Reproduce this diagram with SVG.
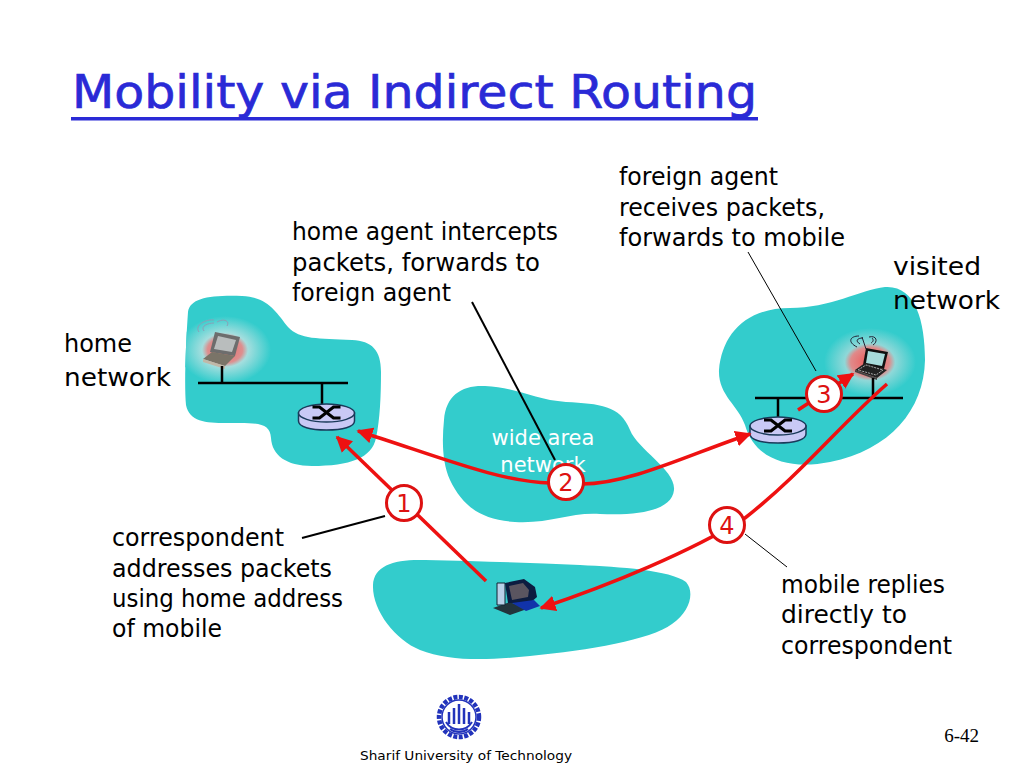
<svg xmlns="http://www.w3.org/2000/svg" width="1024" height="768" viewBox="0 0 1024 768">
<style>
text{font-family:"DejaVu Sans","Noto Sans",sans-serif;fill:#000}
.l{font-size:24px}
.cloud{fill:#33cccc}
.bus{stroke:#000;stroke-width:2.5;fill:none}
.thin{stroke:#000;stroke-width:1;fill:none}
.med{stroke:#000;stroke-width:2;fill:none}
.red{stroke:#ee1111;stroke-width:3.5;fill:none}
.num{fill:#fff;stroke:#dd1111;stroke-width:3}
.nt{font-size:24px;fill:#dd1111;text-anchor:middle}
.rt{fill:#c9c9f5;stroke:#1a3a5a;stroke-width:1.5}
</style>
<defs>
<marker id="ah" viewBox="0 0 10 10" refX="9" refY="5" markerWidth="4.6" markerHeight="4.6" orient="auto-start-reverse"><path d="M0 0L10 5L0 10z" fill="#ee1111"/></marker>
<radialGradient id="glow"><stop offset="0" stop-color="#e86a6a"/><stop offset=".38" stop-color="#dd8f8f"/><stop offset=".5" stop-color="#a5dede"/><stop offset="1" stop-color="#33cccc"/></radialGradient>
<radialGradient id="glow2"><stop offset="0" stop-color="#ee5555"/><stop offset=".42" stop-color="#e08a8a"/><stop offset=".55" stop-color="#8fd8d8"/><stop offset="1" stop-color="#33cccc"/></radialGradient>
<path id="home-shape" d="M188 312C190 298 210 295 242 296C268 297 276 312 288 327C300 340 318 338 352 340C372 341 381 350 381 372C381 395 380 420 376 438C372 458 350 466 312 466C286 466 272 455 271 438C270 425 262 423 240 423C212 423 190 425 186 405C184 385 186 340 188 312z"/>
<clipPath id="home-clip"><use href="#home-shape"/></clipPath>
<g id="router">
<path class="rt" d="M-28 -4V4C-28 10 -16 13 0 13S28 10 28 4V-4z"/>
<ellipse class="rt" cx="0" cy="-4" rx="28" ry="9"/>
<path d="M-14 -10H-7L7 1H14M-14 1H-7L7 -10H14" fill="none" stroke="#000" stroke-width="3.2"/>
</g>
</defs>
<rect width="1024" height="768" fill="#fff"/>
<g id="title">
<text x="72" y="108" style="font-size:47px;fill:#2a2ad6;stroke:#2a2ad6;stroke-width:.7" textLength="685" lengthAdjust="spacingAndGlyphs">Mobility via Indirect Routing</text>
<rect x="71" y="117" width="687" height="3.5" fill="#2a2ad6"/>
</g>
<g id="home-network">
<use href="#home-shape" class="cloud"/>
<ellipse cx="225" cy="350" rx="46" ry="34" fill="url(#glow)" clip-path="url(#home-clip)"/>
<g id="home-laptop">
<path d="M215 332L240 337L235 356L210 352z" fill="#6d6d6d"/>
<path d="M218 336L236 340L232 352L214 349z" fill="#b9bdbd"/>
<path d="M203 359L212 352L235 356L225 366z" fill="#7a7468"/>
<path d="M203 359L225 366V369L203 362z" fill="#c0b8a8"/>
<path d="M199 332C194 325 206 319 214 320M204 331C200 326 208 323 214 323M217 322C224 318 230 321 227 326" fill="none" stroke="#8aa0b8" stroke-width="1"/>
</g>
<path class="bus" d="M198 383H348M222 366V383M322 383V405"/>
<use href="#router" x="326.500" y="417"/>
<text class="l" x="64" y="352" textLength="68" lengthAdjust="spacingAndGlyphs">home</text>
<text class="l" x="64" y="386" textLength="107" lengthAdjust="spacingAndGlyphs">network</text>
</g>
<g id="wide-area-network">
<path class="cloud" d="M444 420C446 395 462 385 485 386C515 387 535 400 566 402C600 404 620 405 630 430C638 450 676 470 674 490C672 510 640 516 600 514C570 512 550 524 515 522C480 520 462 505 450 480C442 462 442 440 444 420z"/>
<text x="543" y="445" text-anchor="middle" style="font-size:21px;fill:#fff">wide area</text>
<text x="543" y="472" text-anchor="middle" style="font-size:21px;fill:#fff">network</text>
</g>
<g id="visited-network">
<path class="cloud" d="M719 370C722 335 745 308 790 308C830 308 860 290 885 287C915 285 925 320 925 360C924 410 890 450 830 462C790 470 755 460 745 425C738 405 718 395 719 370z"/>
<ellipse cx="870" cy="362" rx="46" ry="34" fill="url(#glow2)"/>
<g id="visited-laptop">
<path d="M866 348L888 352L884 369L863 365z" fill="#111"/>
<path d="M868 351L885 354L882 366L866 363z" fill="#a8dcdc"/>
<path d="M855 370L865 363L887 370L877 378z" fill="#222"/>
<path d="M858 370L866 365L883 370L876 375z" fill="none" stroke="#ccc" stroke-width=".8" stroke-dasharray="2 1"/>
<path d="M855 370L877 378V380L855 372z" fill="#444"/>
<path d="M857 347C847 342 850 336 859 336M860 344C855 341 857 338 863 338M869 337C877 335 878 342 873 345M872 338C874 340 873 342 871 343M862 337L866 349" fill="none" stroke="#223" stroke-width="1"/>
</g>
<path class="bus" d="M755 398H903M778 398V418M873 378V398"/>
<use href="#router" x="778" y="430"/>
<text class="l" x="893" y="275" textLength="88" lengthAdjust="spacingAndGlyphs">visited</text>
<text class="l" x="893" y="309" textLength="107" lengthAdjust="spacingAndGlyphs">network</text>
</g>
<g id="correspondent-network">
<path class="cloud" d="M373 585C374 565 395 559 425 560C480 561 530 563 580 565C620 567 670 570 686 582C695 592 690 612 672 624C650 640 590 650 530 656C490 660 450 662 420 650C395 640 372 610 373 585z"/>
<g id="computer">
<path d="M493 608L510 602L527 609L510 615z" fill="#22343c"/>
<path d="M497 583H505V605H497z" fill="#b8d0e8" stroke="#123" stroke-width="1"/>
<path d="M505 583L524 579L535 587L537 597L530 603L508 603z" fill="#0c1c40"/>
<path d="M509 586L523 583L529 590L528 597L512 600z" fill="#5a5560"/>
<path d="M512 603L534 600L540 606L526 611z" fill="#1133aa"/>
</g>
</g>
<g id="connectors">
<path class="red" marker-end="url(#ah)" d="M550 483C500 482 440 457 358 431"/>
<path class="red" marker-end="url(#ah)" d="M582 484C630 484 690 454 750 434"/>
<path class="red" marker-end="url(#ah)" d="M486 581L337 437"/>
<path class="red" marker-end="url(#ah)" d="M798 410L853 374"/>
<path class="red" marker-end="url(#ah)" d="M887 384C840 425 800 475 745 518C690 552 610 585 541 608"/>
<path class="thin" d="M748 252L816 371"/>
<path class="med" d="M472 302L555 460"/>
<path class="med" d="M302 538L385 516"/>
<path class="thin" d="M745 534L787 567"/>
</g>
<g id="badge-1"><circle class="num" cx="404" cy="503" r="17.500"/><text class="nt" x="404" y="512">1</text></g>
<g id="badge-2"><circle class="num" cx="566" cy="482" r="17.500"/><text class="nt" x="566" y="491">2</text></g>
<g id="badge-3"><circle class="num" cx="824" cy="394" r="17.500"/><text class="nt" x="824" y="403">3</text></g>
<g id="badge-4"><circle class="num" cx="727" cy="525" r="17.500"/><text class="nt" x="727" y="534">4</text></g>
<g id="captions">
<text class="l" x="292" y="240" textLength="266" lengthAdjust="spacingAndGlyphs">home agent intercepts</text>
<text class="l" x="292" y="271" textLength="248" lengthAdjust="spacingAndGlyphs">packets, forwards to</text>
<text class="l" x="292" y="301" textLength="159" lengthAdjust="spacingAndGlyphs">foreign agent</text>
<text class="l" x="619" y="185" textLength="159" lengthAdjust="spacingAndGlyphs">foreign agent</text>
<text class="l" x="619" y="216" textLength="206" lengthAdjust="spacingAndGlyphs">receives packets,</text>
<text class="l" x="619" y="246" textLength="226" lengthAdjust="spacingAndGlyphs">forwards to mobile</text>
<text class="l" x="112" y="546" textLength="172" lengthAdjust="spacingAndGlyphs">correspondent</text>
<text class="l" x="112" y="577" textLength="220" lengthAdjust="spacingAndGlyphs">addresses packets</text>
<text class="l" x="112" y="607" textLength="231" lengthAdjust="spacingAndGlyphs">using home address</text>
<text class="l" x="112" y="637" textLength="110" lengthAdjust="spacingAndGlyphs">of mobile</text>
<text class="l" x="781" y="593" textLength="164" lengthAdjust="spacingAndGlyphs">mobile replies</text>
<text class="l" x="781" y="623" textLength="126" lengthAdjust="spacingAndGlyphs">directly to</text>
<text class="l" x="781" y="654" textLength="171" lengthAdjust="spacingAndGlyphs">correspondent</text>
</g>
<g id="footer">
<g id="logo" fill="none" stroke="#2233bb">
<circle cx="459" cy="717" r="20" stroke-width="4.500" stroke-dasharray="4 1.500"/>
<circle cx="459" cy="717" r="17" stroke-width="1.500"/>
<path d="M459 704V724M454 708V724M464 708V724M449 712V724M469 712V724" stroke-width="2.500"/>
<path d="M446 722C452 732 466 732 472 722M450 729C455 733 463 733 468 729" stroke-width="2"/>
</g>
<text x="360" y="760" style="font-size:13px" textLength="212" lengthAdjust="spacingAndGlyphs">Sharif University of Technology</text>
<text x="979" y="742" text-anchor="end" style="font-family:'Liberation Serif',serif;font-size:19px">6-42</text>
</g>
</svg>
